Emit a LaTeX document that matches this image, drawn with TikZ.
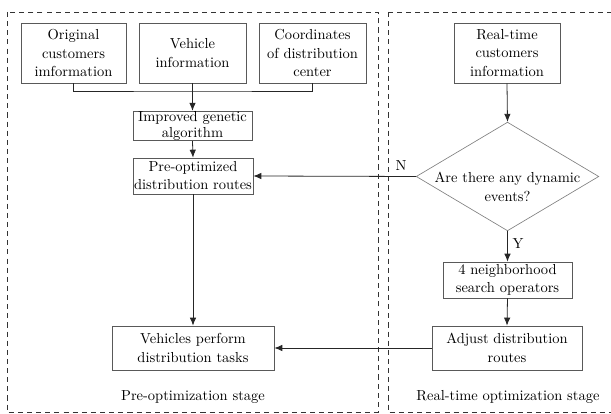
\documentclass[tikz,border=0pt]{standalone}
\usetikzlibrary{shapes.geometric,arrows.meta}
\begin{document}
\begin{tikzpicture}[x=0.69pt, y=-0.69pt,
        box/.style={draw=black!65, line width=0.5pt, rectangle, align=center, inner sep=0pt,
            font=\fontsize{10}{13}\selectfont},
        decision/.style={draw=black!50, line width=0.45pt, diamond, inner sep=0pt,
            minimum width=126pt, minimum height=75pt},
        flow/.style={-{Latex[length=5.5pt,width=4.5pt]}, line width=0.55pt, black!85},
        link/.style={line width=0.55pt, black!85},
        stage/.style={draw, dash pattern=on 3.5pt off 2.8pt, line width=0.55pt, black!80},
        tag/.style={font=\fontsize{10}{13}\selectfont}]
        \clip (0,0) rectangle (611,414);

        % Stage frames
        \draw[stage] (7,12) rectangle (378,412);
        \draw[stage] (388,12) rectangle (625,412);

        % Pre-optimization stage nodes
        \node[box, minimum width=72.5pt, minimum height=41.4pt] (orig) at (73.5,53) {Original\\customers\\imformation};
        \node[box, minimum width=73.8pt, minimum height=41.4pt] (veh) at (192.5,53) {Vehicle\\information};
        \node[box, minimum width=73.8pt, minimum height=41.4pt] (coord) at (312.5,53) {Coordinates\\of distribution\\center};
        \node[box, minimum width=82pt, minimum height=18pt, font=\fontsize{10}{11.5}\selectfont] (iga) at (192.5,126) {Improved genetic\\algorithm};
        \node[box, minimum width=82.8pt, minimum height=24.8pt, font=\fontsize{10}{12.4}\selectfont] (preopt) at (193,176) {Pre-optimized\\distribution routes};
        \node[box, minimum width=111.8pt, minimum height=30.4pt] (vperf) at (193,348) {Vehicles perform\\distribution tasks};

        % Real-time optimization stage nodes
        \node[box, minimum width=73pt, minimum height=41.4pt] (rtinfo) at (507,53) {Real-time\\customers\\information};
        \node[decision] (dyn) at (507.5,176.5) {};
        \node[tag, align=center] (dyntext) at (507.5,187) {Are there any dynamic\\events?};
        \node[box, minimum width=89pt, minimum height=24.8pt, font=\fontsize{10}{12.4}\selectfont] (nbr) at (507.5,280) {4 neighborhood\\search operators};
        \node[box, minimum width=103.5pt, minimum height=30.4pt] (adj) at (507,348) {Adjust distribution\\routes};

        % Stage names
        \node[tag] (prelabel) at (193,397) {Pre-optimization stage};
        \node[tag] (rtlabel) at (508,397) {Real-time optimization stage};

        % Connectors
        \coordinate (junc) at (192.5,91);
        \draw[link] (orig.south) |- (junc) -| (coord.south);
        \draw[flow] (veh.south) -- (iga.north);
        \draw[flow] (iga.south) -- (preopt.north);
        \draw[flow] (preopt.south) -- (vperf.north);
        \draw[flow] (rtinfo.south) -- (dyn.north);
        \draw[flow] (dyn.west) -- (preopt.east);
        \draw[flow] (dyn.south) -- (nbr.north);
        \draw[flow] (nbr.south) -- (adj.north);
        \draw[flow] (adj.west) -- (vperf.east);

        % Branch labels
        \node[tag] (nolabel) at (401,166) {N};
        \node[tag] (yeslabel) at (518,244) {Y};
    \end{tikzpicture}
\end{document}
